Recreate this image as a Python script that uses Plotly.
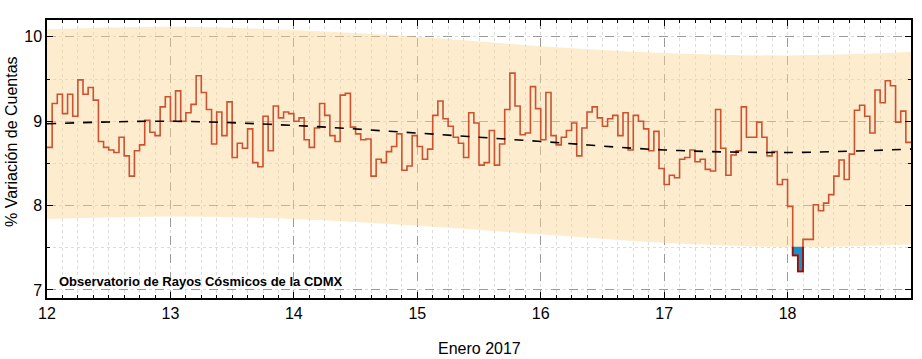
import numpy as np
import plotly.graph_objects as go

# Hourly % variation of counts, 12-19 Jan 2017 (168 hourly values)
counts = [
    8.69, 9.21, 9.32, 9.09, 9.32, 9.06, 9.49, 9.32, 9.40, 9.25, 8.76, 8.69,
    8.66, 8.63, 8.81, 8.59, 8.35, 8.65, 8.72, 9.01, 8.87, 8.83, 9.17, 9.29,
    9.00, 9.36, 9.00, 9.10, 9.20, 9.54, 9.34, 9.14, 8.73, 9.11, 8.83, 9.23,
    8.57, 8.74, 8.68, 8.91, 8.51, 8.46, 9.06, 8.65, 9.18, 9.04, 9.11, 9.09,
    9.00, 9.04, 8.78, 8.69, 8.92, 9.21, 9.07, 8.83, 8.76, 9.31, 9.33, 8.93,
    8.85, 8.78, 8.79, 8.35, 8.55, 8.51, 8.64, 8.70, 8.85, 8.42, 8.47, 8.83,
    8.70, 8.55, 8.67, 9.07, 9.24, 9.03, 8.94, 8.81, 8.74, 8.57, 9.10, 8.98,
    8.48, 8.51, 8.89, 8.48, 8.73, 9.14, 9.57, 9.18, 8.84, 8.86, 9.41, 9.15,
    8.78, 9.34, 8.83, 8.72, 8.81, 8.89, 8.98, 8.59, 8.92, 9.11, 9.17, 9.04,
    8.94, 9.03, 9.07, 8.83, 9.10, 8.66, 9.07, 9.00, 8.91, 8.65, 8.88, 8.44,
    8.25, 8.36, 8.33, 8.55, 8.57, 8.66, 8.52, 8.55, 8.43, 8.41, 9.14, 8.68,
    8.36, 8.60, 8.65, 9.17, 8.81, 8.81, 8.99, 8.81, 8.59, 8.64, 8.25, 8.31,
    7.99, 7.41, 7.22, 7.60, 7.60, 8.01, 7.94, 8.03, 8.13, 8.35, 8.54, 8.31,
    8.61, 9.13, 9.19, 9.06, 8.86, 9.37, 9.22, 9.48, 9.42, 8.99, 9.12, 8.75,
]

# Daily reference curves (trend and envelope)
band_days = [12, 13, 14, 15, 16, 17, 18, 19]
trend = [8.97, 9.00, 8.95, 8.86, 8.76, 8.66, 8.63, 8.67]
band_upper = [10.09, 10.12, 10.08, 10.00, 9.89, 9.81, 9.78, 9.82]
band_lower = [7.84, 7.87, 7.84, 7.76, 7.66, 7.56, 7.51, 7.54]

day_ticks = [12, 13, 14, 15, 16, 17, 18]
day_labels = ["12", "13", "14", "15", "16", "17", "18"]
y_ticks = [7, 8, 9, 10]

start_day = 12.0
hours = np.arange(len(counts))
t_start = start_day + hours / 24.0
t_end = t_start + 1 / 24.0

# step line arrays
x_step = list(t_start) + [t_end[-1]]
y_step = list(counts) + [counts[-1]]

# below-envelope regions
centers = (t_start + t_end) / 2
low_at = np.interp(centers, band_days, band_lower)
below = np.array(counts) < low_at

fill_x, fill_y, dark_x, dark_y = [], [], [], []
i = 0
n = len(counts)
while i < n:
    if below[i]:
        j = i
        while j + 1 < n and below[j + 1]:
            j += 1
        lv = float(np.mean(low_at[i:j + 1]))
        px = [t_start[i]]
        py = [lv]
        for k in range(i, j + 1):
            px += [t_start[k], t_end[k]]
            py += [counts[k], counts[k]]
        px += [t_end[j]]
        py += [lv]
        fill_x += px + [px[0], None]
        fill_y += py + [py[0], None]
        dark_x += px + [None]
        dark_y += py + [None]
        i = j + 1
    else:
        i += 1

fig = go.Figure()

fig.add_trace(go.Scatter(x=band_days, y=band_lower, mode="lines",
                         line=dict(width=0, shape="spline"), showlegend=False,
                         hoverinfo="skip"))
fig.add_trace(go.Scatter(x=band_days, y=band_upper, mode="lines",
                         line=dict(width=0, shape="spline"), fill="tonexty",
                         fillcolor="rgba(250,212,145,0.45)", showlegend=False,
                         hoverinfo="skip"))

fig.add_trace(go.Scatter(x=fill_x, y=fill_y, mode="lines", fill="toself",
                         fillcolor="#1f8ccc", line=dict(width=0),
                         showlegend=False, hoverinfo="skip"))

fig.add_trace(go.Scatter(x=x_step, y=y_step, mode="lines",
                         line=dict(color="#cd5230", width=1.6, shape="hv"),
                         showlegend=False))

fig.add_trace(go.Scatter(x=dark_x, y=dark_y, mode="lines",
                         line=dict(color="#8a1414", width=1.8),
                         showlegend=False, hoverinfo="skip"))

fig.add_trace(go.Scatter(x=band_days, y=trend, mode="lines",
                         line=dict(color="black", width=1.6, dash="dash",
                                   shape="spline"),
                         showlegend=False))

fig.add_annotation(text="<b>Observatorio de Rayos Cósmicos de la CDMX</b>",
                   xref="paper", yref="paper", x=0.011, y=0.058,
                   xanchor="left", yanchor="middle", showarrow=False,
                   font=dict(family="Liberation Sans, Arial", size=13,
                             color="black"))

# axis titles as annotations
fig.add_annotation(text="Enero 2017", xref="paper", yref="paper",
                   x=0.5, y=-0.183, xanchor="center", yanchor="middle",
                   showarrow=False, font=dict(size=16, color="black"))
fig.add_annotation(text="% Variación de Cuentas", xref="paper", yref="paper",
                   x=-0.041, y=0.56, xanchor="center", yanchor="middle",
                   textangle=-90, showarrow=False,
                   font=dict(size=16, color="black"))

fig.update_xaxes(
    range=[12, 19], tickmode="array", tickvals=day_ticks, ticktext=day_labels,
    ticks="inside", ticklen=6, tickwidth=1, tickcolor="black",
    showline=True, linecolor="black", linewidth=1.5, mirror="ticks",
    showgrid=True, gridcolor="#9a9a9a", griddash="dash", gridwidth=1,
    zeroline=False, automargin=False,
    minor=dict(dtick=0.125, tick0=12, ticks="inside", ticklen=3,
               tickcolor="black", showgrid=True, gridcolor="#dcdcdc",
               griddash="dot", gridwidth=1),
    tickfont=dict(size=16, color="black"),
)
fig.update_yaxes(
    range=[6.905, 10.2], tickmode="array", tickvals=y_ticks,
    ticks="inside", ticklen=6, tickwidth=1, tickcolor="black",
    showline=True, linecolor="black", linewidth=1.5, mirror="ticks",
    showgrid=True, gridcolor="#9a9a9a", griddash="dash", gridwidth=1,
    zeroline=False, automargin=False,
    minor=dict(dtick=0.5, tick0=0, ticks="inside", ticklen=3,
               tickcolor="black", showgrid=True, gridcolor="#dcdcdc",
               griddash="dot", gridwidth=1),
    tickfont=dict(size=16, color="black"),
)

fig.update_layout(
    width=922, height=359,
    margin=dict(l=47, r=11, t=20, b=61, autoexpand=False),
    paper_bgcolor="white", plot_bgcolor="white",
    font=dict(family="Liberation Sans, Arial, sans-serif", color="black"),
    showlegend=False,
)

fig.write_html("out.html",
               config={"displayModeBar": False},
               post_script="document.body.style.margin='0';document.body.style.overflow='hidden';")
